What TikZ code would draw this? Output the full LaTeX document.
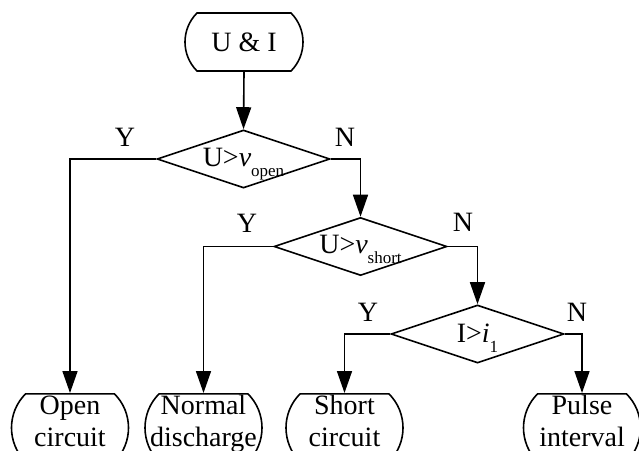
\documentclass[tikz,border=0pt]{standalone}
\usepackage{fontspec}
\setmainfont{Liberation Serif}
\usetikzlibrary{shapes.geometric,shapes.misc,arrows.meta}
\newcommand\sbs[1]{\raisebox{-10pt}{\fontsize{17}{17}\selectfont #1}}
\begin{document}
\begin{tikzpicture}[x=1pt,y=1pt,
  line width=1.6pt,
  every node/.style={font=\fontsize{28}{32}\selectfont},
  startbox/.style={draw, rounded rectangle, rounded rectangle arc length=90,
    minimum width=118pt, minimum height=58pt, inner sep=0pt},
  term/.style={draw, rounded rectangle, rounded rectangle arc length=90,
    minimum width=117pt, minimum height=68pt, inner sep=0pt,
    text width=80pt, align=center, text height=18.5pt, text depth=46pt},
  dec/.style={draw, diamond, minimum width=173pt, minimum height=58pt, inner sep=0pt},
  lbl/.style={inner sep=0pt},
  arr/.style={-{Triangle[length=22pt,width=15pt]}}]
\useasboundingbox (0,0) rectangle (639,-450);
\clip (0,0) rectangle (639,-450);

\node[startbox] (ui) at (244,-42) {U \& I};

\node[dec] (d1) at (243.5,-159) {};
\node[dec] (d2) at (360.5,-246.5) {};
\node[dec] (d3) at (477.5,-334) {};

\node[lbl, anchor=base] (t1) at (243.5,-166) {U>\textit{v}\sbs{open}};
\node[lbl, anchor=base] (t2) at (360.5,-253) {U>\textit{v}\sbs{short}};
\node[lbl, anchor=base] (t3) at (477.5,-342) {I>\textit{i}\sbs{1}};

\node[term, anchor=north] (oc) at (70,-393) {\makebox[0pt]{Open}\\\makebox[0pt]{circuit}};
\node[term, anchor=north] (nd) at (203.5,-393) {\makebox[0pt]{Normal}\\\makebox[0pt]{discharge}};
\node[term, anchor=north] (sc) at (344.5,-393) {\makebox[0pt]{Short}\\\makebox[0pt]{circuit}};
\node[term, anchor=north] (pi) at (582,-393) {\makebox[0pt]{Pulse}\\\makebox[0pt]{interval}};

\node[lbl] (y1) at (125,-137) {Y};
\node[lbl] (n1) at (345,-137) {N};
\node[lbl] (y2) at (247,-223) {Y};
\node[lbl] (n2) at (463,-222) {N};
\node[lbl] (y3) at (368,-312) {Y};
\node[lbl] (n3) at (577,-312) {N};

\draw[arr] (ui.south) -- (d1.north);
\draw[arr] (d1.west) -| (oc.north);
\draw[arr] (d1.east) -| (d2.north);
\draw[arr] (d2.west) -| (nd.north);
\draw[arr] (d2.east) -| (d3.north);
\draw[arr] (d3.west) -| (sc.north);
\draw[arr] (d3.east) -| (pi.north);
\end{tikzpicture}
\end{document}
